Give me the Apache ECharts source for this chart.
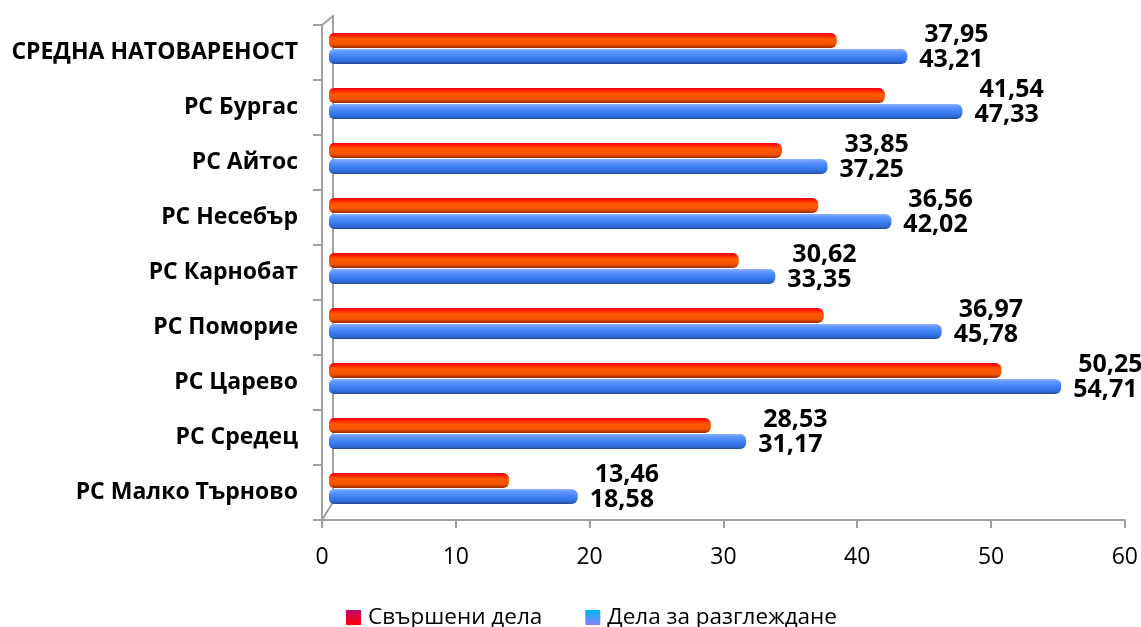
<!DOCTYPE html>
<html>
<head>
<meta charset="utf-8">
<script src="https://cdn.jsdelivr.net/npm/echarts@6/dist/echarts.min.js"></script>
<style>
html,body{margin:0;padding:0;background:#fff;}
#chart{width:1141px;height:627px;}
</style>
</head>
<body>
<div id="chart"></div>
<script>
const categories = ['РС Малко Търново','РС Средец','РС Царево','РС Поморие','РС Карнобат','РС Несебър','РС Айтос','РС Бургас','СРЕДНА НАТОВАРЕНОСТ'];
const doneCases = [13.46, 28.53, 50.25, 36.97, 30.62, 36.56, 33.85, 41.54, 37.95];
const pendingCases = [18.58, 31.17, 54.71, 45.78, 33.35, 42.02, 37.25, 47.33, 43.21];
const seriesNames = ['Свършени дела', 'Дела за разглеждане'];
const xMin = 0, xMax = 60, xStep = 10;

const FONT = '"Open Sans", "Noto Sans", sans-serif';
const fmt = v => v.toFixed(2).replace('.', ',');

const redGrad = new echarts.graphic.LinearGradient(0, 0, 0, 1, [
  {offset: 0, color: '#e8001a'}, {offset: 0.18, color: '#ff2400'},
  {offset: 0.4, color: '#ff5a00'}, {offset: 0.75, color: '#f45200'},
  {offset: 1, color: '#9a2800'}]);
const blueGrad = new echarts.graphic.LinearGradient(0, 0, 0, 1, [
  {offset: 0, color: '#8cb0ff'}, {offset: 0.22, color: '#5c94ff'},
  {offset: 0.55, color: '#3b7ff2'}, {offset: 0.85, color: '#2f68d6'},
  {offset: 1, color: '#244896'}]);

const chart = echarts.init(document.getElementById('chart'), null, {renderer: 'canvas'});
const axisGray = '#a0a0a0';

const option = {
  animation: false,
  backgroundColor: '#fff',
  grid: [
    {left: 322, right: 16, top: 25, bottom: 107},
    {left: 329, right: 9, top: 21, bottom: 111}
  ],
  xAxis: [
    {type: 'value', gridIndex: 0, min: xMin, max: xMax, interval: xStep,
     axisLine: {show: true, lineStyle: {color: axisGray, width: 2}},
     axisTick: {show: true, length: 8, lineStyle: {color: axisGray, width: 2}},
     splitLine: {show: false},
     axisLabel: {color: '#000', fontFamily: FONT, fontSize: 23, margin: 26}},
    {type: 'value', gridIndex: 1, min: xMin, max: xMax, interval: xStep, show: false}
  ],
  yAxis: [
    {type: 'category', gridIndex: 0, data: categories,
     axisLine: {show: true, lineStyle: {color: axisGray, width: 2}},
     axisTick: {show: true, length: 9, lineStyle: {color: axisGray, width: 2}},
     axisLabel: {color: '#000', fontFamily: FONT, fontWeight: 'bold', fontSize: 23, margin: 24}},
    {type: 'category', gridIndex: 1, data: categories, show: false}
  ],
  legend: {
    left: 346, top: 606, padding: 0, itemWidth: 15, itemHeight: 15, itemGap: 43,
    icon: 'rect',
    textStyle: {color: '#000', fontFamily: FONT, fontSize: 22.5, padding: [0, 0, 0, 2]},
    data: [
      {name: seriesNames[0], itemStyle: {color: new echarts.graphic.LinearGradient(0, 0, 0, 1, [{offset: 0, color: '#c0086a'}, {offset: 1, color: '#ff0000'}])}},
      {name: seriesNames[1], itemStyle: {color: new echarts.graphic.LinearGradient(0, 0, 0, 1, [{offset: 0, color: '#00b4f0'}, {offset: 1, color: '#8a80ff'}])}}
    ]
  },
  graphic: [{
    type: 'polyline', z: 0,
    shape: {points: [[322, 25], [333, 16], [333, 502], [322, 520]]},
    style: {stroke: axisGray, lineWidth: 2, fill: null}
  }],
  series: [
    {name: seriesNames[0], type: 'bar', xAxisIndex: 1, yAxisIndex: 1, stack: 'done',
     data: doneCases, barWidth: 15, barGap: '7%',
     itemStyle: {color: redGrad, borderRadius: [5, 6, 6, 5]}},
    {name: '_labels', type: 'bar', xAxisIndex: 1, yAxisIndex: 1, stack: 'done',
     data: pendingCases.map((v, i) => v - doneCases[i]), barWidth: 15, barGap: '7%',
     itemStyle: {color: 'rgba(0,0,0,0)'}, silent: true,
     label: {show: true, position: 'right', distance: 17, offset: [0, -6],
             color: '#000', fontFamily: FONT, fontWeight: 'bold', fontSize: 25,
             formatter: p => fmt(doneCases[p.dataIndex])}},
    {name: seriesNames[1], type: 'bar', xAxisIndex: 1, yAxisIndex: 1,
     data: pendingCases, barWidth: 15, barGap: '7%',
     itemStyle: {color: blueGrad, borderRadius: [5, 6, 6, 5]},
     label: {show: true, position: 'right', distance: 12, offset: [0, 3],
             color: '#000', fontFamily: FONT, fontWeight: 'bold', fontSize: 25,
             formatter: p => fmt(p.value)}}
  ]
};
chart.setOption(option);
</script>
</body>
</html>
